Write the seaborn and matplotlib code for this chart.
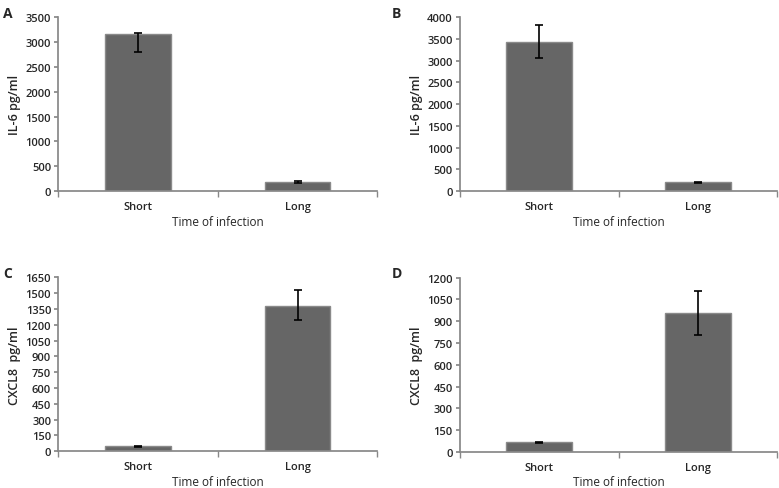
import numpy as np
import pandas as pd
import seaborn as sns
import matplotlib.pyplot as plt

categories = ["Short", "Long"]

il6_a = [3170, 180]
il6_a_lo = [370, 15]
il6_a_hi = [20, 15]

il6_b = [3430, 200]
il6_b_lo = [380, 15]
il6_b_hi = [390, 15]

cxcl8_c = [47, 1381]
cxcl8_c_lo = [8, 136]
cxcl8_c_hi = [8, 151]

cxcl8_d = [65, 958]
cxcl8_d_lo = [4, 152]
cxcl8_d_hi = [4, 150]

sns.set_theme(style="white")
plt.rcParams["font.family"] = ["Open Sans", "DejaVu Sans"]

fig = plt.figure(figsize=(7.79, 4.89), dpi=100)

panels = [
    ("A", il6_a, il6_a_lo, il6_a_hi, "IL-6 pg/ml", 3500, 500, [0.0745, 0.607, 0.41, 0.356]),
    ("B", il6_b, il6_b_lo, il6_b_hi, "IL-6 pg/ml", 4000, 500, [0.590, 0.607, 0.408, 0.356]),
    ("C", cxcl8_c, cxcl8_c_lo, cxcl8_c_hi, "CXCL8  pg/ml", 1650, 150, [0.0745, 0.075, 0.41, 0.356]),
    ("D", cxcl8_d, cxcl8_d_lo, cxcl8_d_hi, "CXCL8  pg/ml", 1200, 150, [0.590, 0.074, 0.408, 0.356]),
]

for letter, vals, lo, hi, ylab, ymax, step, rect in panels:
    ax = fig.add_axes(rect)
    df = pd.DataFrame({"time": categories, "value": vals})
    sns.barplot(data=df, x="time", y="value", ax=ax, color="#666666",
                width=0.41, edgecolor="#8a8a8a", linewidth=1.0, saturation=1)
    x = np.arange(len(categories))
    ax.errorbar(x, vals, yerr=[lo, hi], fmt="none", ecolor="black",
                elinewidth=1.2, capsize=3, capthick=1.2)
    ax.set_xlim(-0.5, 1.5)
    ax.set_ylim(0, ymax)
    ax.set_yticks(np.arange(0, ymax + 1, step))
    ax.set_ylabel(ylab, fontsize=9, fontweight="semibold", labelpad=3)
    ax.set_xlabel("Time of infection", fontsize=8.5, labelpad=2)
    ax.tick_params(axis="x", which="major", length=0, labelsize=8, pad=7)
    ax.set_xticks([-0.5, 0.5, 1.5], minor=True)
    ax.tick_params(axis="x", which="minor", length=4, color="#888888", direction="out", bottom=True)
    ax.tick_params(axis="y", length=3, color="#888888", direction="out", labelsize=8, pad=2, left=True)
    for lab in ax.get_xticklabels() + ax.get_yticklabels():
        lab.set_fontweight("semibold")
    sns.despine(ax=ax)
    ax.spines["left"].set_color("#888888")
    ax.spines["bottom"].set_color("#888888")
    fx = 0.004 if letter in "AC" else 0.503
    fy = 0.985 if letter in "AB" else 0.455
    fig.text(fx, fy, letter, fontsize=10, fontweight="bold", va="top", ha="left")

fig.savefig("out.png", dpi=100)
